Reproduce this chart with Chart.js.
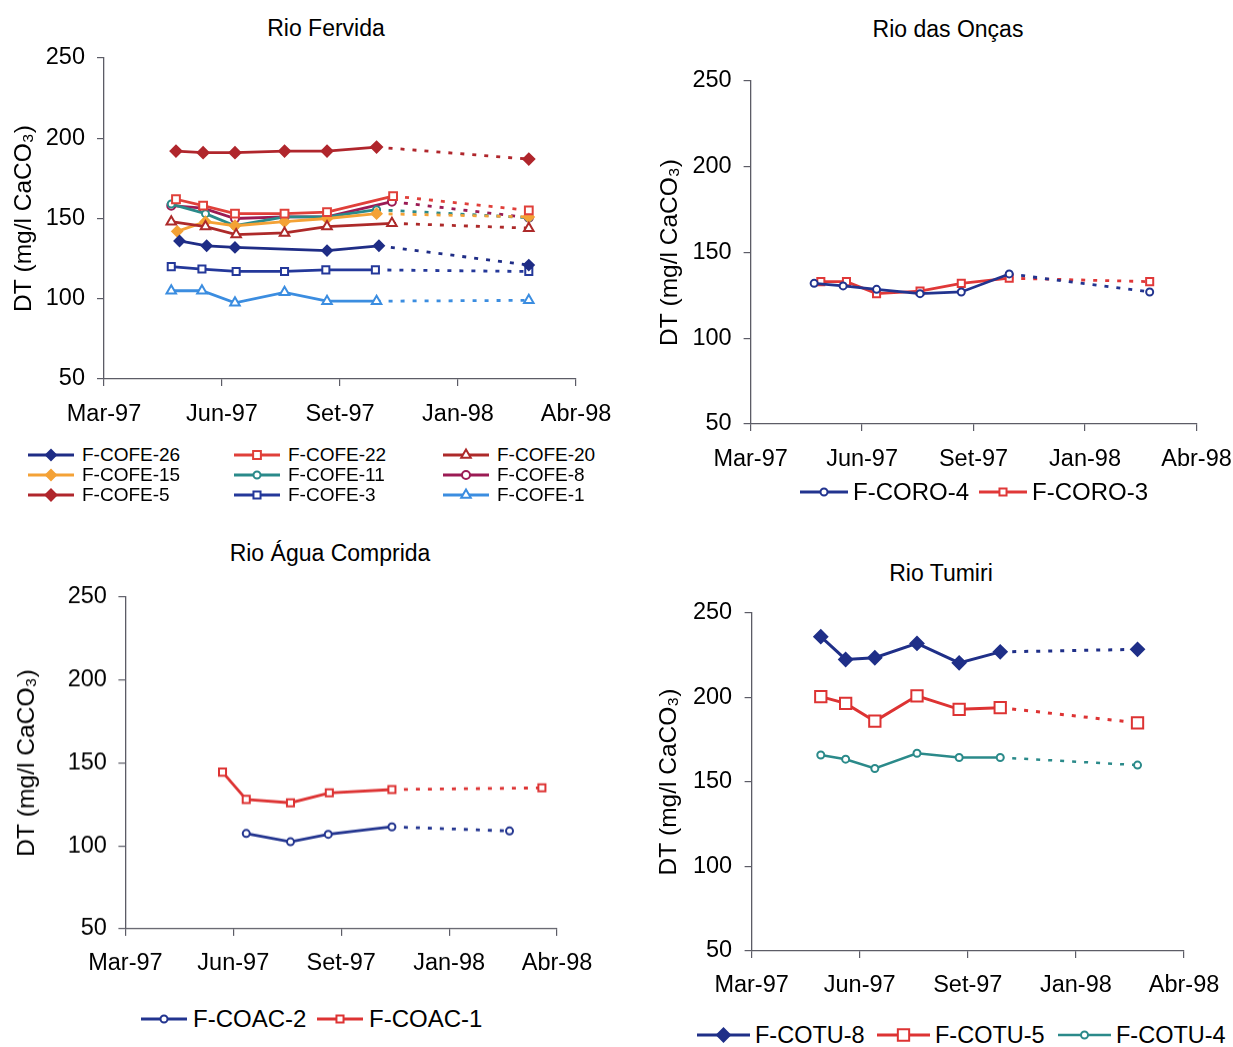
<!DOCTYPE html>
<html>
<head>
<meta charset="utf-8">
<script src="https://cdn.jsdelivr.net/npm/chart.js@4.4.1/dist/chart.umd.min.js"></script>
<style>
  html, body { margin: 0; background: #fff; }
  #page { position: relative; width: 1233px; height: 1047px; overflow: hidden;
          font-family: 'Liberation Sans', Arial, sans-serif; color: #000; }
  #page canvas.plot { position: absolute; }
  .ttl { position: absolute; width: 400px; text-align: center; font-size: 23px;
         line-height: 28px; white-space: nowrap; }
  .lg-item { position: absolute; display: flex; align-items: center; height: 28px; white-space: nowrap; }
  .lg-item canvas { display: block; }
</style>
</head>
<body>
<div id="page"></div>
<script>
/* ═══════════════════════════════════════════════
   Dureza total (DT) por rio — 4 painéis
═══════════════════════════════════════════════ */

// ── Axis labels ───────────────────────────────
// x = position on the sampling axis (0 = Mar-97 … 4 = Abr-98)
const monthLabels = ['Mar-97', 'Jun-97', 'Set-97', 'Jan-98', 'Abr-98'];
const yLabel = 'DT (mg/l CaCO₃)';

// ── Rio Fervida ───────────────────────────────
const cofe26X = [0.64, 0.87, 1.11, 1.89, 2.33, 3.60];
const cofe26Y = [136, 133, 132, 130, 133, 121];
const cofe22X = [0.61, 0.84, 1.11, 1.53, 1.89, 2.45, 3.60];
const cofe22Y = [162, 158, 153, 153, 154, 164, 155];
const cofe20X = [0.57, 0.86, 1.12, 1.53, 1.89, 2.44, 3.60];
const cofe20Y = [148, 145, 140, 141, 145, 147, 144];
const cofe15X = [0.62, 0.86, 1.11, 1.53, 1.89, 2.31, 3.60];
const cofe15Y = [142, 148, 145.5, 148, 150, 153, 151];
const cofe11X = [0.57, 0.86, 1.11, 1.53, 1.89, 2.31, 3.60];
const cofe11Y = [159, 153, 145.5, 151, 151, 155.5, 150.5];
const cofe8X  = [0.57, 0.84, 1.11, 1.53, 1.89, 2.44, 3.60];
const cofe8Y  = [158, 156.5, 150, 151, 151, 160.5, 150.5];
const cofe5X  = [0.61, 0.84, 1.11, 1.53, 1.89, 2.31, 3.60];
const cofe5Y  = [192, 191, 191, 192, 192, 194.5, 187];
const cofe3X  = [0.57, 0.83, 1.12, 1.53, 1.88, 2.30, 3.60];
const cofe3Y  = [120, 118.5, 117, 117, 118, 118, 117];
const cofe1X  = [0.57, 0.83, 1.11, 1.53, 1.89, 2.31, 3.60];
const cofe1Y  = [105, 105, 97.5, 104, 98.5, 98.5, 99];

// ── Rio das Onças ─────────────────────────────
const coro4X = [0.57, 0.83, 1.13, 1.52, 1.89, 2.32, 3.58];
const coro4Y = [132, 130.5, 128.5, 126, 127, 137.5, 127];
const coro3X = [0.63, 0.86, 1.13, 1.52, 1.89, 2.32, 3.58];
const coro3Y = [133, 133, 126, 127.5, 132, 135, 133];

// ── Rio Água Comprida ─────────────────────────
const coac2X = [1.12, 1.53, 1.88, 2.47, 3.56];
const coac2Y = [107.5, 102.5, 107, 111.5, 109];
const coac1X = [0.90, 1.12, 1.53, 1.89, 2.47, 3.86];
const coac1Y = [144.5, 128, 126, 132, 134, 135];

// ── Rio Tumiri ────────────────────────────────
const tumiriX = [0.64, 0.87, 1.14, 1.53, 1.92, 2.30, 3.57];
const cotu8Y  = [236, 222.5, 223.5, 232, 220.5, 227, 228.5];
const cotu5Y  = [200.5, 196.5, 186, 201, 193, 194, 185];
const cotu4Y  = [166, 163.5, 158, 167, 164.5, 164.5, 160];

// ── Styling ───────────────────────────────────
const AXIS   = '#5c5c66';
const FONT   = "'Liberation Sans', Arial, sans-serif";
const X_AXIS_H = 52;

Chart.defaults.font.family = FONT;
Chart.defaults.color = '#000';

// last segment of every station is the dotted gap up to Mar-98
function series(label, xs, ys, color, m) {
  const last = xs.length - 1;
  return {
    label,
    data: xs.map((x, i) => ({ x, y: ys[i] })),
    borderColor: color,
    backgroundColor: color,
    borderWidth: m.line || 2.8,
    pointStyle: m.style,
    pointRadius: m.r,
    pointHoverRadius: m.r,
    pointBorderWidth: m.bw || 2,
    pointBorderColor: color,
    pointBackgroundColor: m.fill ? color : '#fff',
    tension: 0,
    segment: { borderDash: ctx => (ctx.p1DataIndex === last ? [4, 8] : undefined) },
  };
}

const panels = [
  {
    title: 'Rio Fervida', titleAt: [326, 28],
    plot: [104, 58.3, 576, 379.3], canvasX: [0, 620],
    yTitleX: 24, tickPadY: 12, tickPadX: 14,
    datasets: [
      series('F-COFE-26', cofe26X, cofe26Y, '#1f2d86', { style: 'rectRot', r: 5, fill: true }),
      series('F-COFE-22', cofe22X, cofe22Y, '#e0403a', { style: 'rect', r: 5.5 }),
      series('F-COFE-20', cofe20X, cofe20Y, '#ad2a2a', { style: 'triangle', r: 5.5 }),
      series('F-COFE-15', cofe15X, cofe15Y, '#f4a236', { style: 'rectRot', r: 5, fill: true }),
      series('F-COFE-11', cofe11X, cofe11Y, '#2a8a8a', { style: 'circle', r: 3.5 }),
      series('F-COFE-8',  cofe8X,  cofe8Y,  '#9b1b54', { style: 'circle', r: 4 }),
      series('F-COFE-5',  cofe5X,  cofe5Y,  '#b0262c', { style: 'rectRot', r: 5.5, fill: true }),
      series('F-COFE-3',  cofe3X,  cofe3Y,  '#24389a', { style: 'rect', r: 5 }),
      series('F-COFE-1',  cofe1X,  cofe1Y,  '#3b8de0', { style: 'triangle', r: 5.5 }),
    ],
    legend: { cols: [28, 234, 443], rows: [455, 475, 495], font: 19, iconW: 46, gap: 8 },
  },
  {
    title: 'Rio das Onças', titleAt: [948, 29],
    plot: [750.6, 81, 1196.5, 424.3], canvasX: [625, 1233],
    yTitleX: 670, tickPadY: 12, tickPadX: 14,
    datasets: [
      series('F-CORO-4', coro4X, coro4Y, '#22348f', { style: 'circle', r: 3.5 }),
      series('F-CORO-3', coro3X, coro3Y, '#e03838', { style: 'rect', r: 5 }),
    ],
    legend: { spots: [[800, 492], [979, 492]], font: 24, iconW: 48, gap: 5 },
  },
  {
    title: 'Rio Água Comprida', titleAt: [330, 553],
    plot: [125.4, 597.3, 557, 929], canvasX: [0, 620],
    yTitleX: 27, tickPadY: 11.5, tickPadX: 13,
    datasets: [
      series('F-COAC-2', coac2X, coac2Y, '#22348f', { style: 'circle', r: 3.5 }),
      series('F-COAC-1', coac1X, coac1Y, '#dd3333', { style: 'rect', r: 5 }),
    ],
    legend: { spots: [[141, 1019], [317, 1019]], font: 24, iconW: 46, gap: 6 },
  },
  {
    title: 'Rio Tumiri', titleAt: [941, 573],
    plot: [751.6, 612.7, 1184, 951], canvasX: [625, 1233],
    yTitleX: 669, tickPadY: 12.5, tickPadX: 13,
    datasets: [
      series('F-COTU-8', tumiriX, cotu8Y, '#1f2f88', { style: 'rectRot', r: 6.5, fill: true, line: 3 }),
      series('F-COTU-5', tumiriX, cotu5Y, '#dd3333', { style: 'rect', r: 8, bw: 2, line: 3 }),
      series('F-COTU-4', tumiriX, cotu4Y, '#2b8a8a', { style: 'circle', r: 3.5, line: 2.5 }),
    ],
    legend: { spots: [[697, 1035], [877, 1035], [1058, 1035]], font: 23.5, iconW: 53, gap: 5 },
  },
];

const page = document.getElementById('page');

// ── Legend icon: line with the marker in the middle ──
function legendIcon(ds, w) {
  const c = document.createElement('canvas');
  c.width = w; c.height = 22;
  const ctx = c.getContext('2d');
  ctx.strokeStyle = ds.borderColor;
  ctx.lineWidth = ds.borderWidth;
  ctx.beginPath(); ctx.moveTo(0, 11); ctx.lineTo(w, 11); ctx.stroke();
  ctx.fillStyle = ds.pointBackgroundColor;
  ctx.lineWidth = ds.pointBorderWidth;
  Chart.helpers.drawPoint(ctx, {
    pointStyle: ds.pointStyle, radius: ds.pointRadius, rotation: 0, borderWidth: ds.pointBorderWidth,
  }, w / 2, 11);
  return c;
}

function buildLegend(p) {
  const lg = p.legend;
  const spots = lg.spots || p.datasets.map((_, i) => [lg.cols[i % 3], lg.rows[Math.floor(i / 3)]]);
  p.datasets.forEach((ds, i) => {
    const [x, y] = spots[i];
    const item = document.createElement('div');
    item.className = 'lg-item';
    item.style.left = x + 'px';
    item.style.top = (y - 14) + 'px';
    item.style.fontSize = lg.font + 'px';
    item.appendChild(legendIcon(ds, lg.iconW));
    const txt = document.createElement('span');
    txt.style.marginLeft = lg.gap + 'px';
    txt.textContent = ds.label;
    item.appendChild(txt);
    page.appendChild(item);
  });
}

function buildPanel(p) {
  const [pl, pt, pr, pb] = p.plot;
  const [cl, cr] = p.canvasX;
  const ct = pt - 22, cb = pb + 58;

  const ttl = document.createElement('div');
  ttl.className = 'ttl';
  ttl.textContent = p.title;
  ttl.style.left = (p.titleAt[0] - 200) + 'px';
  ttl.style.top = (p.titleAt[1] - 14) + 'px';
  page.appendChild(ttl);

  const cv = document.createElement('canvas');
  cv.className = 'plot';
  cv.width = cr - cl; cv.height = cb - ct;
  cv.style.left = cl + 'px'; cv.style.top = ct + 'px';
  cv.style.width = (cr - cl) + 'px'; cv.style.height = (cb - ct) + 'px';
  page.appendChild(cv);

  const grid = { drawOnChartArea: false, drawTicks: true, tickLength: 7, color: AXIS, lineWidth: 1.2 };
  const border = { display: true, color: AXIS, width: 1.3 };
  const titleFont = { size: 24.5 };

  new Chart(cv.getContext('2d'), {
    type: 'line',
    data: { datasets: p.datasets },
    options: {
      responsive: false,
      animation: false,
      devicePixelRatio: 1,
      layout: { padding: { left: 0, top: pt - ct, right: cr - pr, bottom: cb - pb - X_AXIS_H } },
      plugins: { legend: { display: false }, tooltip: { enabled: false } },
      scales: {
        x: {
          type: 'linear', min: 0, max: 4,
          grid, border,
          ticks: {
            stepSize: 1, autoSkip: false, maxRotation: 0, padding: p.tickPadX,
            font: { size: 23.5 }, color: '#000',
            callback: v => monthLabels[v] ?? '',
          },
          afterFit: s => { s.height = X_AXIS_H; s.paddingLeft = 0; s.paddingRight = 0; },
        },
        y: {
          type: 'linear', min: 50, max: 250,
          grid, border,
          ticks: { stepSize: 50, padding: p.tickPadY, font: { size: 23.5 }, color: '#000' },
          title: {
            display: true, text: yLabel, font: titleFont, color: '#000',
            padding: { top: p.yTitleX - cl - 14.7, bottom: 0 },
          },
          afterFit: s => { s.width = pl - cl; s.paddingTop = 0; s.paddingBottom = 0; },
        },
      },
    },
  });

  buildLegend(p);
}

panels.forEach(buildPanel);
</script>
</body>
</html>
